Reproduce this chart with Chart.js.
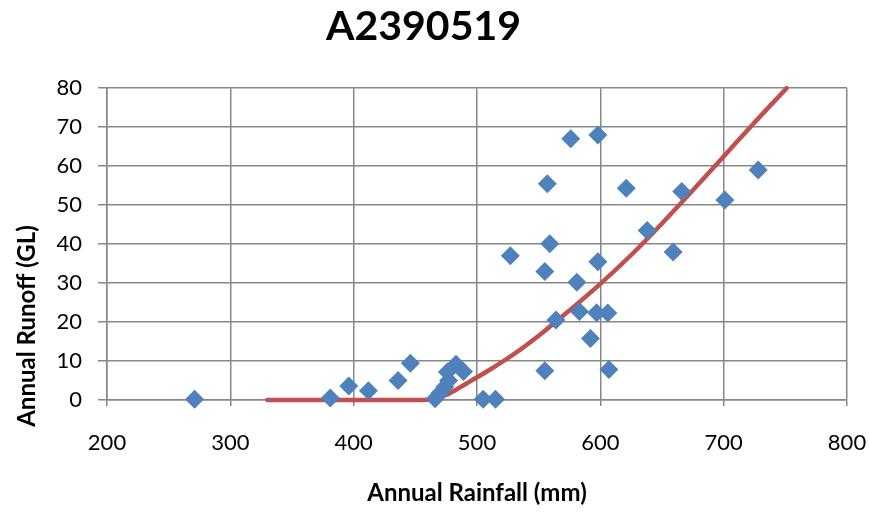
<!DOCTYPE html>
<html>
<head>
<meta charset="utf-8">
<script src="https://cdn.jsdelivr.net/npm/chart.js@4/dist/chart.umd.min.js"></script>
<style>
  html, body { margin: 0; padding: 0; background: #fff; }
  #wrap { width: 870px; height: 512px; }
</style>
</head>
<body>
<div id="wrap"><canvas id="runoffChart" width="870" height="512"></canvas></div>
<script>
// observed annual rainfall (mm) and runoff (GL)
const rainfall = [271, 381, 396, 412, 436, 446, 466, 470, 474, 477, 476, 483, 489, 505, 515,
  527, 555, 555, 557, 559, 564, 576, 581, 583, 592, 597, 598, 598, 606, 607,
  621, 638, 659, 666, 701, 728];
const runoff = [0.2, 0.5, 3.6, 2.4, 5.0, 9.4, 0.3, 1.8, 3.4, 5.0, 7.2, 9.2, 7.3, 0.2, 0.2,
  37.0, 7.5, 33.0, 55.5, 40.1, 20.5, 67.0, 30.2, 22.7, 15.8, 22.4, 35.5, 68.0, 22.3, 7.8,
  54.3, 43.5, 38.0, 53.5, 51.3, 59.0];

// fitted curve
const fitRain = [330, 400, 455, 465, 475, 485, 495, 510, 530, 550, 575, 600, 625, 650, 675, 700, 725, 751];
const fitRunoff = [0, 0, 0, 0.3, 1.3, 3.0, 4.9, 7.7, 11.8, 16.5, 23, 29.8, 37.2, 45.3, 53.8, 62.5, 71.2, 80];

const xTicks = [200, 300, 400, 500, 600, 700, 800];
const yTicks = [0, 10, 20, 30, 40, 50, 60, 70, 80];

const gridGray = '#878787';
const font = 'Lato, "Open Sans", sans-serif';

// y title is offset down in the original, so draw it by hand
const yTitle = {
  id: 'yTitle',
  afterDraw(chart) {
    const ctx = chart.ctx;
    ctx.save();
    ctx.translate(27, 326);
    ctx.rotate(-Math.PI / 2);
    ctx.font = `bold 24px ${font}`;
    ctx.fillStyle = '#000';
    ctx.textAlign = 'center';
    ctx.textBaseline = 'middle';
    ctx.fillText('Annual Runoff (GL)', 0, 0);
    ctx.restore();
  }
};

new Chart(document.getElementById('runoffChart').getContext('2d'), {
  type: 'scatter',
  data: {
    datasets: [{
      label: 'Observed',
      data: rainfall.map((r, i) => ({ x: r, y: runoff[i] })),
      pointStyle: 'rectRot',
      pointRadius: 9.5,
      pointHoverRadius: 9.5,
      backgroundColor: '#4F81BD',
      borderColor: '#4F81BD',
      borderWidth: 0,
      clip: false,
      order: 1
    }, {
      label: 'Fitted',
      type: 'line',
      data: fitRain.map((r, i) => ({ x: r, y: fitRunoff[i] })),
      borderColor: '#C0504D',
      borderWidth: 4.5,
      borderCapStyle: 'round',
      borderJoinStyle: 'round',
      pointRadius: 0,
      cubicInterpolationMode: 'monotone',
      fill: false,
      clip: false,
      order: 2
    }]
  },
  options: {
    responsive: false,
    animation: false,
    layout: { padding: { left: 0, right: 23, top: 0, bottom: 0 } },
    plugins: {
      legend: { display: false },
      tooltip: { enabled: false },
      title: {
        display: true,
        text: 'A2390519',
        color: '#000',
        font: { family: font, size: 41, weight: 'bold' },
        padding: { top: 2, bottom: 37 }
      }
    },
    scales: {
      x: {
        type: 'linear',
        min: 200,
        max: 800,
        afterBuildTicks(s) { s.ticks = xTicks.map(v => ({ value: v })); },
        afterFit(s) {
          s.height = 112;
          // label overhang is covered by the layout padding
          s.paddingLeft = 0;
          s.paddingRight = 0;
        },
        grid: { color: gridGray, lineWidth: 1.5, tickLength: 6 },
        border: { color: gridGray, width: 1.5 },
        ticks: { color: '#000', padding: 24, font: { family: font, size: 22 } },
        title: {
          display: true,
          text: 'Annual Rainfall (mm)',
          color: '#000',
          font: { family: font, size: 24, weight: 'bold' },
          padding: { top: 0, bottom: 4 }
        }
      },
      y: {
        type: 'linear',
        min: 0,
        max: 80,
        afterBuildTicks(s) { s.ticks = yTicks.map(v => ({ value: v })); },
        afterFit(s) { s.width = 107; },
        grid: { color: gridGray, lineWidth: 1.5, tickLength: 9 },
        border: { color: gridGray, width: 1.5 },
        ticks: { color: '#000', padding: 16, font: { family: font, size: 22 } }
      }
    }
  },
  plugins: [yTitle]
});
</script>
</body>
</html>
